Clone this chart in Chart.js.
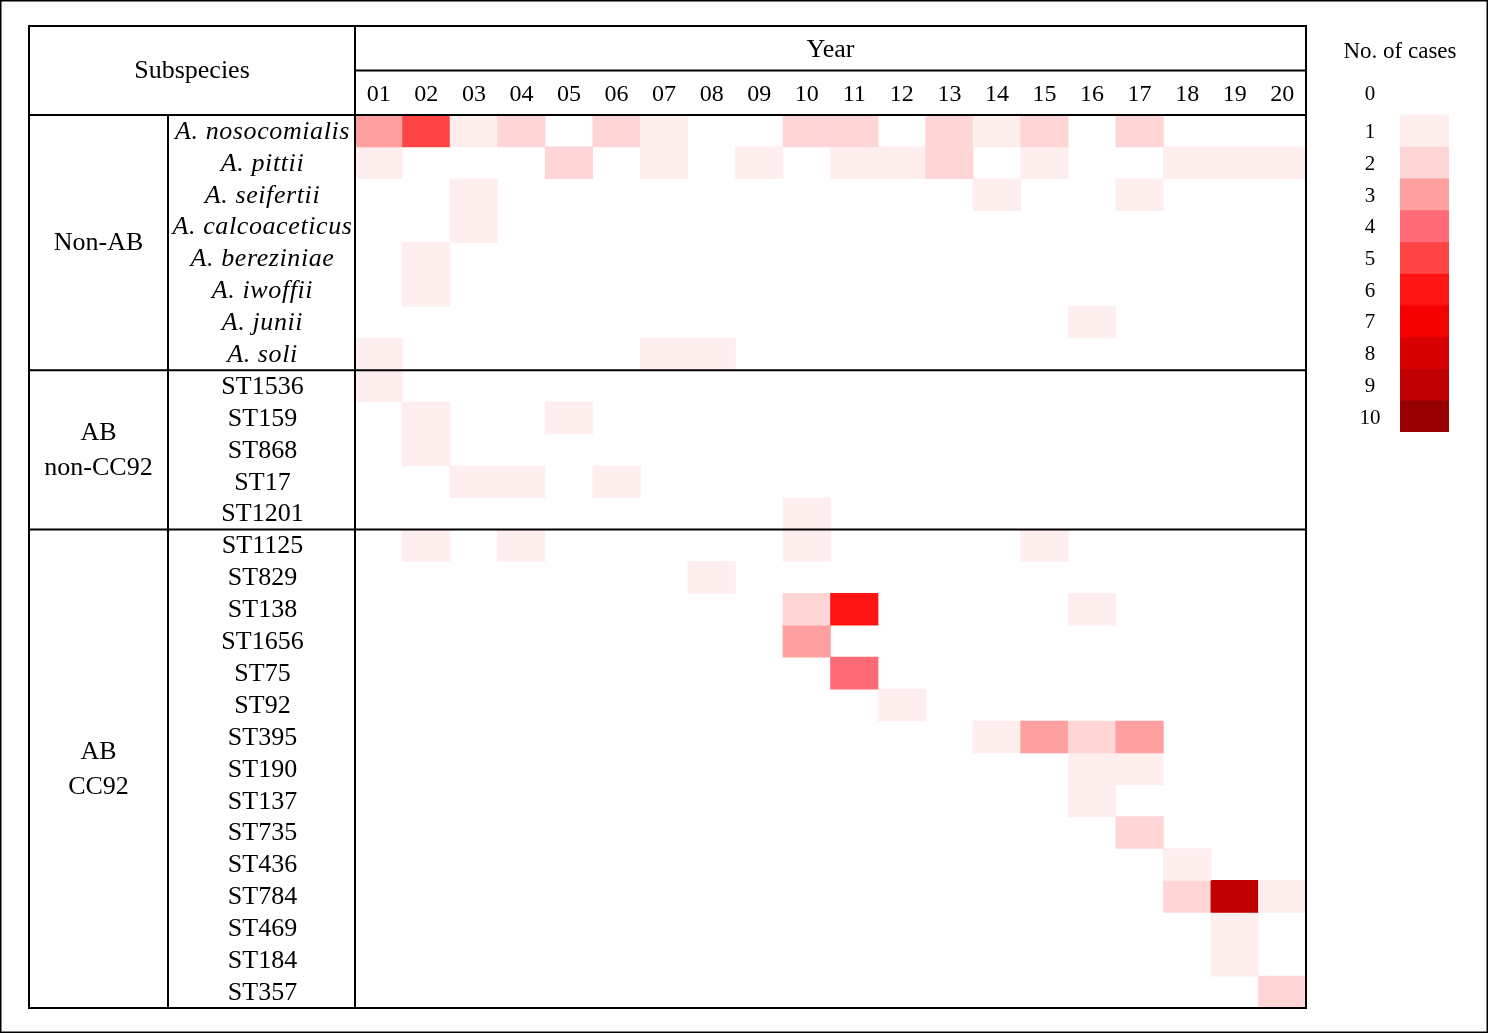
<!DOCTYPE html>
<html>
<head>
<meta charset="utf-8">
<script src="https://cdn.jsdelivr.net/npm/chart.js@4.4.1/dist/chart.umd.min.js"></script>
<style>
  html, body { margin: 0; padding: 0; background: #fff; }
  #wrap { position: relative; width: 1488px; height: 1033px; }
  canvas { position: absolute; left: 0; top: 0; }
</style>
</head>
<body>
<div id="wrap">
  <canvas id="main" width="1488" height="1033"></canvas>
  <canvas id="legend" width="1488" height="1033"></canvas>
</div>
<script>
// ---------------- DATA ----------------
const years = ['01','02','03','04','05','06','07','08','09','10','11','12','13','14','15','16','17','18','19','20'];

const groupNames = [['Non-AB'], ['AB', 'non-CC92'], ['AB', 'CC92']];

const nonABLabels = ['A. nosocomialis','A. pittii','A. seifertii','A. calcoaceticus','A. bereziniae','A. iwoffii','A. junii','A. soli'];
const nonABCases = [
  [3,5,1,2,0,2,1,0,0,2,2,0,2,1,2,0,2,0,0,0],
  [1,0,0,0,2,0,1,0,1,0,1,1,2,0,1,0,0,1,1,1],
  [0,0,1,0,0,0,0,0,0,0,0,0,0,1,0,0,1,0,0,0],
  [0,0,1,0,0,0,0,0,0,0,0,0,0,0,0,0,0,0,0,0],
  [0,1,0,0,0,0,0,0,0,0,0,0,0,0,0,0,0,0,0,0],
  [0,1,0,0,0,0,0,0,0,0,0,0,0,0,0,0,0,0,0,0],
  [0,0,0,0,0,0,0,0,0,0,0,0,0,0,0,1,0,0,0,0],
  [1,0,0,0,0,0,1,1,0,0,0,0,0,0,0,0,0,0,0,0]
];

const abNonCC92Labels = ['ST1536','ST159','ST868','ST17','ST1201'];
const abNonCC92Cases = [
  [1,0,0,0,0,0,0,0,0,0,0,0,0,0,0,0,0,0,0,0],
  [0,1,0,0,1,0,0,0,0,0,0,0,0,0,0,0,0,0,0,0],
  [0,1,0,0,0,0,0,0,0,0,0,0,0,0,0,0,0,0,0,0],
  [0,0,1,1,0,1,0,0,0,0,0,0,0,0,0,0,0,0,0,0],
  [0,0,0,0,0,0,0,0,0,1,0,0,0,0,0,0,0,0,0,0]
];

const abCC92Labels = ['ST1125','ST829','ST138','ST1656','ST75','ST92','ST395','ST190','ST137','ST735','ST436','ST784','ST469','ST184','ST357'];
const abCC92Cases = [
  [0,1,0,1,0,0,0,0,0,1,0,0,0,0,1,0,0,0,0,0],
  [0,0,0,0,0,0,0,1,0,0,0,0,0,0,0,0,0,0,0,0],
  [0,0,0,0,0,0,0,0,0,2,6,0,0,0,0,1,0,0,0,0],
  [0,0,0,0,0,0,0,0,0,3,0,0,0,0,0,0,0,0,0,0],
  [0,0,0,0,0,0,0,0,0,0,4,0,0,0,0,0,0,0,0,0],
  [0,0,0,0,0,0,0,0,0,0,0,1,0,0,0,0,0,0,0,0],
  [0,0,0,0,0,0,0,0,0,0,0,0,0,1,3,2,3,0,0,0],
  [0,0,0,0,0,0,0,0,0,0,0,0,0,0,0,1,1,0,0,0],
  [0,0,0,0,0,0,0,0,0,0,0,0,0,0,0,1,0,0,0,0],
  [0,0,0,0,0,0,0,0,0,0,0,0,0,0,0,0,2,0,0,0],
  [0,0,0,0,0,0,0,0,0,0,0,0,0,0,0,0,0,1,0,0],
  [0,0,0,0,0,0,0,0,0,0,0,0,0,0,0,0,0,2,9,1],
  [0,0,0,0,0,0,0,0,0,0,0,0,0,0,0,0,0,0,1,0],
  [0,0,0,0,0,0,0,0,0,0,0,0,0,0,0,0,0,0,1,0],
  [0,0,0,0,0,0,0,0,0,0,0,0,0,0,0,0,0,0,0,2]
];

const legendLevels = ['0','1','2','3','4','5','6','7','8','9','10'];
const palette = ['#ffffff','#ffeeee','#ffd5d6','#ffa0a0','#ff6b76','#ff4444','#ff1414','#f50000','#d80000','#c00000','#960000'];

// ---------------- BUILD ----------------
const groups = [
  { labels: nonABLabels, cases: nonABCases, italic: true },
  { labels: abNonCC92Labels, cases: abNonCC92Cases, italic: false },
  { labels: abCC92Labels, cases: abCC92Cases, italic: false }
];
const rowLabels = [], rowCases = [], rowItalic = [], groupBounds = [];
groups.forEach(g => {
  const start = rowLabels.length;
  g.labels.forEach((l, i) => { rowLabels.push(l); rowCases.push(g.cases[i]); rowItalic.push(g.italic); });
  groupBounds.push([start, rowLabels.length]);
});
const nRows = rowLabels.length;

const FONT = "'Liberation Serif', 'Times New Roman', serif";
const TABLE_LEFT = 29, GROUP_COL_RIGHT = 168, TABLE_TOP = 26;

const datasets = rowCases.map((vals, r) => ({
  label: rowLabels[r],
  data: vals.map(v => v > 0 ? [r, r + 1] : null),
  backgroundColor: vals.map(v => palette[v]),
  borderWidth: 0,
  grouped: false,
  barPercentage: 1,
  categoryPercentage: 1
}));

const tablePlugin = {
  id: 'tablePlugin',
  afterDraw(chart) {
    const ctx = chart.ctx, ca = chart.chartArea;
    const x = chart.scales.x, y = chart.scales.y;
    ctx.save();
    // page frame
    ctx.strokeStyle = '#000';
    ctx.lineWidth = 1.5;
    ctx.strokeRect(0.75, 0.75, chart.width - 1.5, chart.height - 1.5);

    // table lines
    ctx.lineWidth = 2;
    const headerMid = (TABLE_TOP + ca.top) / 2;
    ctx.strokeRect(TABLE_LEFT, TABLE_TOP, ca.right - TABLE_LEFT, ca.bottom - TABLE_TOP);
    ctx.beginPath();
    ctx.moveTo(ca.left, TABLE_TOP); ctx.lineTo(ca.left, ca.bottom);
    ctx.moveTo(GROUP_COL_RIGHT, ca.top); ctx.lineTo(GROUP_COL_RIGHT, ca.bottom);
    ctx.moveTo(ca.left, headerMid); ctx.lineTo(ca.right, headerMid);
    ctx.moveTo(TABLE_LEFT, ca.top); ctx.lineTo(ca.right, ca.top);
    groupBounds.slice(1).forEach(b => {
      const py = y.getPixelForValue(b[0]);
      ctx.moveTo(TABLE_LEFT, py); ctx.lineTo(ca.right, py);
    });
    ctx.stroke();

    ctx.fillStyle = '#000';
    ctx.textAlign = 'center';
    ctx.textBaseline = 'middle';

    // header
    ctx.font = '26px ' + FONT;
    ctx.fillText('Subspecies', (TABLE_LEFT + ca.left) / 2, (TABLE_TOP + ca.top) / 2 + 1);
    ctx.fillText('Year', (ca.left + ca.right) / 2, (TABLE_TOP + headerMid) / 2 + 2);
    ctx.font = '24px ' + FONT;
    years.forEach((yr, i) => {
      ctx.fillText(yr, x.getPixelForValue(i), (headerMid + ca.top) / 2 + 2);
    });

    // group labels
    ctx.font = '26px ' + FONT;
    groupBounds.forEach((b, gi) => {
      const cy = (y.getPixelForValue(b[0]) + y.getPixelForValue(b[1])) / 2;
      const lines = groupNames[gi];
      const lh = 35;
      lines.forEach((ln, li) => {
        ctx.fillText(ln, (TABLE_LEFT + GROUP_COL_RIGHT) / 2, cy + (li - (lines.length - 1) / 2) * lh + 1);
      });
    });

    // row labels
    rowLabels.forEach((lab, r) => {
      ctx.font = (rowItalic[r] ? 'italic ' : '') + '26px ' + FONT;
      if ('letterSpacing' in ctx) ctx.letterSpacing = rowItalic[r] ? '0.6px' : '0px';
      ctx.fillText(lab, (GROUP_COL_RIGHT + ca.left) / 2 + 1, y.getPixelForValue(r + 0.5) + 1);
    });
    ctx.restore();
  }
};

new Chart(document.getElementById('main'), {
  type: 'bar',
  data: { labels: years, datasets },
  options: {
    responsive: false,
    animation: false,
    devicePixelRatio: 1,
    layout: { padding: { left: 355, right: 182, top: 115, bottom: 25 } },
    scales: {
      x: { type: 'category', labels: years, offset: true, display: false },
      y: { type: 'linear', min: 0, max: nRows, reverse: true, display: false }
    },
    plugins: { legend: { display: false }, tooltip: { enabled: false } }
  },
  plugins: [tablePlugin]
});

// ---------------- COLOUR KEY ----------------
const keyDatasets = legendLevels.map((lv, k) => ({
  label: lv,
  data: k > 0 ? [[k, k + 1]] : [null],
  backgroundColor: palette[k],
  borderWidth: 0,
  grouped: false,
  barPercentage: 1,
  categoryPercentage: 1
}));

const keyPlugin = {
  id: 'keyPlugin',
  afterDraw(chart) {
    const ctx = chart.ctx, ca = chart.chartArea, y = chart.scales.y;
    ctx.save();
    ctx.fillStyle = '#000';
    ctx.textAlign = 'center';
    ctx.textBaseline = 'middle';
    ctx.font = '23px ' + FONT;
    ctx.fillText('No. of cases', ca.left, 52);
    ctx.font = '21px ' + FONT;
    legendLevels.forEach((lv, k) => {
      const py = k === 0 ? y.getPixelForValue(0.5) - 4 : y.getPixelForValue(k + 0.5) + 2;
      ctx.fillText(lv, ca.left - 30, py);
    });
    ctx.restore();
  }
};

new Chart(document.getElementById('legend'), {
  type: 'bar',
  data: { labels: ['cases'], datasets: keyDatasets },
  options: {
    responsive: false,
    animation: false,
    devicePixelRatio: 1,
    layout: { padding: { left: 1400, right: 39, top: 83, bottom: 601 } },
    scales: {
      x: { type: 'category', offset: true, display: false },
      y: { type: 'linear', min: 0, max: legendLevels.length, reverse: true, display: false }
    },
    plugins: { legend: { display: false }, tooltip: { enabled: false } }
  },
  plugins: [keyPlugin]
});
</script>
</body>
</html>
